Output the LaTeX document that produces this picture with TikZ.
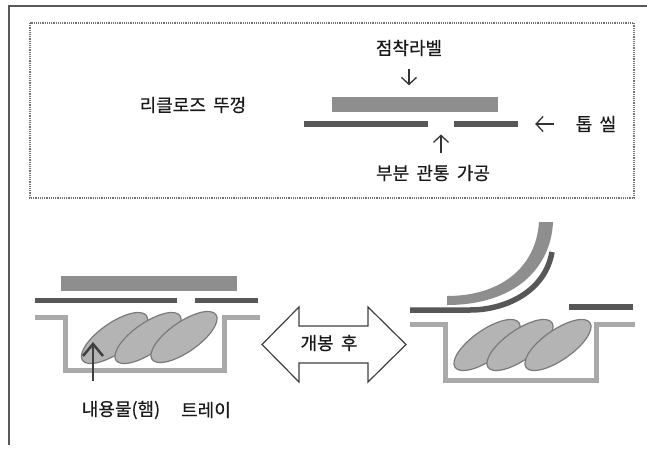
\documentclass[tikz,border=0pt]{standalone}
\usepackage{fontspec}
\setmainfont{Noto Sans CJK KR}[WordSpace=1.8,FakeBold=0.4]
\usetikzlibrary{arrows.meta,shapes.geometric}

\definecolor{labelgray}{HTML}{8E8E8E}
\definecolor{sealgray}{HTML}{575757}
\definecolor{traygray}{HTML}{A9A9A9}
\definecolor{hamfill}{HTML}{B4B4B4}
\definecolor{hamline}{HTML}{7A7A7A}
\definecolor{inkgray}{HTML}{333333}

\begin{document}
\begin{tikzpicture}[x=1pt,y=-1pt,
    txt/.style={inner sep=0pt,text=black!90,font=\fontsize{18}{20}\selectfont},
    lbl/.style={fill=labelgray,inner sep=0pt,minimum height=15pt},
    seal/.style={fill=sealgray,inner sep=0pt,minimum height=5.5pt},
    tray/.style={draw=traygray,line width=5pt},
    ham/.style={ellipse,draw=hamline,fill=hamfill,line width=1.2pt,
      minimum width=78pt,minimum height=30pt,inner sep=0pt,rotate=35},
    pointer/.style={draw=inkgray,line width=1.3pt,-{Straight Barb[length=7pt,width=15pt]}},
    hamptr/.style={draw=black!75,line width=2.5pt,-{Straight Barb[length=12pt,width=20pt]}},
  ]
    \useasboundingbox (0,0) rectangle (647,453);
    % frame and dotted box
    \draw[line width=1.5pt,draw=black!65] (647,6) -- (9,6) -- (9,445);
    \draw[line width=1.6pt,draw=black!55,dash pattern=on 1.2pt off 1pt] (30,23) rectangle (634,198);

    % lid build-up
    \begin{scope}
      \node[txt] (lidtxt) at (193,105) {리클로즈 뚜껑};
      \node[lbl,minimum width=166pt] (lblTop) at (415,104) {};
      \node[seal,minimum width=124pt] (sealTopL) at (366,124) {};
      \node[seal,minimum width=64pt] (sealTopR) at (486,124) {};
      \coordinate (holeTop) at (441,126.5);
      \node[txt] (lbltxt) at (409,48) {점착라벨};
      \node[txt] (sealtxt) at (596,124) {톱 씰};
      \node[txt] (holetxt) at (433,173) {부분 관통 가공};
      \draw[pointer,shorten <=13pt,shorten >=11pt] (lbltxt.south) -- (lbltxt.south |- lblTop.north);
      \draw[pointer,shorten <=12pt,shorten >=8pt] (holetxt.north -| holeTop) -- (holeTop);
      \draw[pointer,shorten <=22pt,shorten >=17pt] (sealtxt.west) -- (sealtxt.west -| sealTopR.east);
    \end{scope}

    % closed tray
    \begin{scope}
      \node[lbl,minimum width=176pt] (lblL) at (149,283.5) {};
      \node[seal,minimum width=142pt] (sealL1) at (106,300.5) {};
      \node[seal,minimum width=63pt] (sealL2) at (226.5,300.5) {};
      \draw[tray] (35,317) -- (65,317) -- (65,370) -- (224,370) -- (224,317) -- (260,317);
      \node[ham] (hamA) at (114.5,338) {};
      \node[ham] (hamB) at (148,338) {};
      \node[ham] (hamC) at (184,337) {};
      \node[txt] (hamtxt) at (121,410) {내용물(햄)};
      \node[txt] (traytxt) at (206,410) {트레이};
      \coordinate (hamtip) at (93,342);
      \draw[hamptr,shorten <=20pt] (hamtip |- hamtxt.north) -- (hamtip);
    \end{scope}

    % opening arrow
    \draw[draw=black!75,line width=1.2pt,fill=white] (262,344.5) -- (299,307) -- (299,326)
      -- (368,326) -- (368,307) -- (406,344.5) -- (368,382) -- (368,363) -- (299,363)
      -- (299,382) -- cycle;
    \node[txt] (opentxt) at (329,343) {개봉 후};

    % opened tray
    \begin{scope}
      \draw[tray] (410,324) -- (445,324) -- (445,380) -- (596,380) -- (596,324) -- (635,324);
      \node[ham] (hamD) at (487,345) {};
      \node[ham] (hamE) at (520,345) {};
      \node[ham] (hamF) at (558,345) {};
      \fill[labelgray] (447,296) .. controls (500,296) and (536,268) .. (539,222)
        -- (553,222) .. controls (551,268) and (515,305) .. (447,305) -- cycle;
      \draw[sealgray,line width=5.5pt] (410,310) -- (470,310) .. controls (505,310) and (545,292) .. (552,252);
      \node[seal,minimum width=64pt] (sealR2) at (601,307) {};
    \end{scope}
\end{tikzpicture}
\end{document}
